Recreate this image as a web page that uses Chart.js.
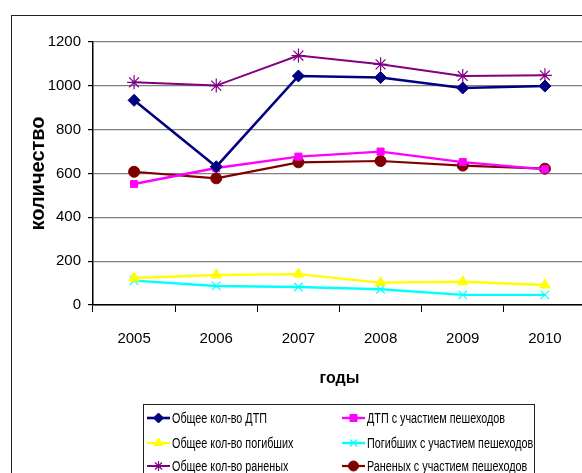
<!DOCTYPE html>
<html>
<head>
<meta charset="utf-8">
<script src="https://cdn.jsdelivr.net/npm/chart.js@4.4.0/dist/chart.umd.min.js"></script>
<style>
  html, body { margin: 0; padding: 0; background: #fff; overflow: hidden; }
  #wrap { position: relative; width: 582px; height: 473px; overflow: hidden; }
  #frame { position: absolute; left: 11px; top: 15px; width: 700px; height: 600px; border: 1px solid #222; box-sizing: border-box; }
  #chart { position: absolute; left: 0; top: 0; }
</style>
</head>
<body>
<div id="wrap">
  <div id="frame"></div>
  <canvas id="chart" width="640" height="473" style="width:640px;height:473px"></canvas>
</div>
<script>
// Data
const years = ['2005', '2006', '2007', '2008', '2009', '2010'];
const totalAccidents = [934, 631, 1045, 1038, 990, 999];
const pedAccidents = [552, 625, 677, 700, 652, 619];
const totalKilled = [123, 137, 141, 102, 106, 91];
const pedKilled = [111, 87, 82, 72, 46, 46];
const totalInjured = [1016, 1001, 1138, 1098, 1045, 1048];
const pedInjured = [608, 578, 651, 657, 636, 622];
const yTicks = [0, 200, 400, 600, 800, 1000, 1200];

const FONT = "'Liberation Sans', Arial, sans-serif";

function series(label, data, color, style, radius, width) {
  return {
    label: label,
    data: data,
    borderColor: color,
    backgroundColor: color,
    borderWidth: width,
    pointStyle: style,
    pointRadius: radius,
    pointBorderWidth: (style === 'crossRot' || style === 'star') ? 1.2 : 1,
    pointBorderColor: color,
    pointBackgroundColor: color,
    tension: 0,
    fill: false
  };
}

const datasets = [
  series('Общее кол-во ДТП', totalAccidents, '#000080', 'rectRot', 6, 2.6),
  series('ДТП с участием пешеходов', pedAccidents, '#ff00ff', 'rect', 5, 2.4),
  series('Общее кол-во погибших', totalKilled, '#ffff00', 'triangle', 6, 2.4),
  series('Погибших с участием пешеходов', pedKilled, '#00ffff', 'crossRot', 6, 2.4),
  series('Общее кол-во раненых', totalInjured, '#800080', 'star', 7, 2),
  series('Раненых с участием пешеходов', pedInjured, '#800000', 'circle', 5.5, 2.2)
];

// Legend drawn in a boxed two-column grid, like the original
const boxLegend = {
  id: 'boxLegend',
  afterDraw(chart) {
    const ctx = chart.ctx;
    ctx.save();
    ctx.fillStyle = '#fff';
    ctx.fillRect(143.5, 404.5, 391, 90);
    ctx.strokeStyle = '#222';
    ctx.lineWidth = 1;
    ctx.strokeRect(143.5, 404.5, 391, 90);
    const cols = [147, 342];
    const rows = [418, 443, 466];
    chart.data.datasets.forEach((ds, i) => {
      const x = cols[i % 2];
      const y = rows[Math.floor(i / 2)];
      ctx.strokeStyle = ds.borderColor;
      ctx.lineWidth = ds.borderWidth;
      ctx.beginPath();
      ctx.moveTo(x, y);
      ctx.lineTo(x + 23, y);
      ctx.stroke();
      ctx.fillStyle = ds.backgroundColor;
      ctx.lineWidth = ds.pointBorderWidth;
      Chart.helpers.drawPoint(ctx, {
        pointStyle: ds.pointStyle,
        radius: Math.min(ds.pointRadius, 5),
        rotation: 0,
        borderWidth: ds.pointBorderWidth
      }, x + 11.5, y);
      // condensed text, the original uses a narrow face
      ctx.save();
      ctx.translate(x + 25, y + 1);
      ctx.scale(0.77, 1);
      ctx.font = '14px ' + FONT;
      ctx.textBaseline = 'middle';
      ctx.textAlign = 'left';
      ctx.fillStyle = '#000';
      ctx.fillText(ds.label, 0, 0);
      ctx.restore();
    });
    ctx.restore();
  }
};

new Chart(document.getElementById('chart'), {
  type: 'line',
  data: { labels: years, datasets: datasets },
  options: {
    responsive: false,
    animation: false,
    layout: { padding: { left: 0, top: 42, right: 54, bottom: 78 } },
    plugins: {
      legend: { display: false },
      tooltip: { enabled: false }
    },
    scales: {
      x: {
        offset: true,
        afterFit: function(scale) { scale.height = 90; },
        grid: {
          offset: true,
          drawOnChartArea: false,
          drawTicks: true,
          tickLength: 7,
          tickColor: '#000'
        },
        border: { color: '#000', width: 1.5 },
        ticks: {
          color: '#000',
          font: { family: FONT, size: 15 },
          padding: 18,
          maxRotation: 0
        },
        title: {
          display: true,
          text: 'годы',
          color: '#000',
          font: { family: FONT, size: 16, weight: 'bold' },
          padding: { top: 0, bottom: 7 }
        }
      },
      y: {
        min: 0,
        max: 1200,
        afterFit: function(scale) { scale.width = 93; },
        afterBuildTicks: function(scale) {
          scale.ticks = yTicks.map(v => ({ value: v }));
        },
        grid: {
          color: '#808080',
          lineWidth: 1.2,
          drawTicks: true,
          tickLength: 5,
          tickColor: '#000'
        },
        border: { color: '#000', width: 1.5 },
        ticks: {
          color: '#000',
          font: { family: FONT, size: 15 },
          padding: 7,
          callback: function(value) { return String(value); }
        },
        title: {
          display: true,
          text: 'количество',
          color: '#000',
          font: { family: FONT, size: 20, weight: 'bold' },
          padding: { top: 26, bottom: 0 }
        }
      }
    }
  },
  plugins: [boxLegend]
});
</script>
</body>
</html>
